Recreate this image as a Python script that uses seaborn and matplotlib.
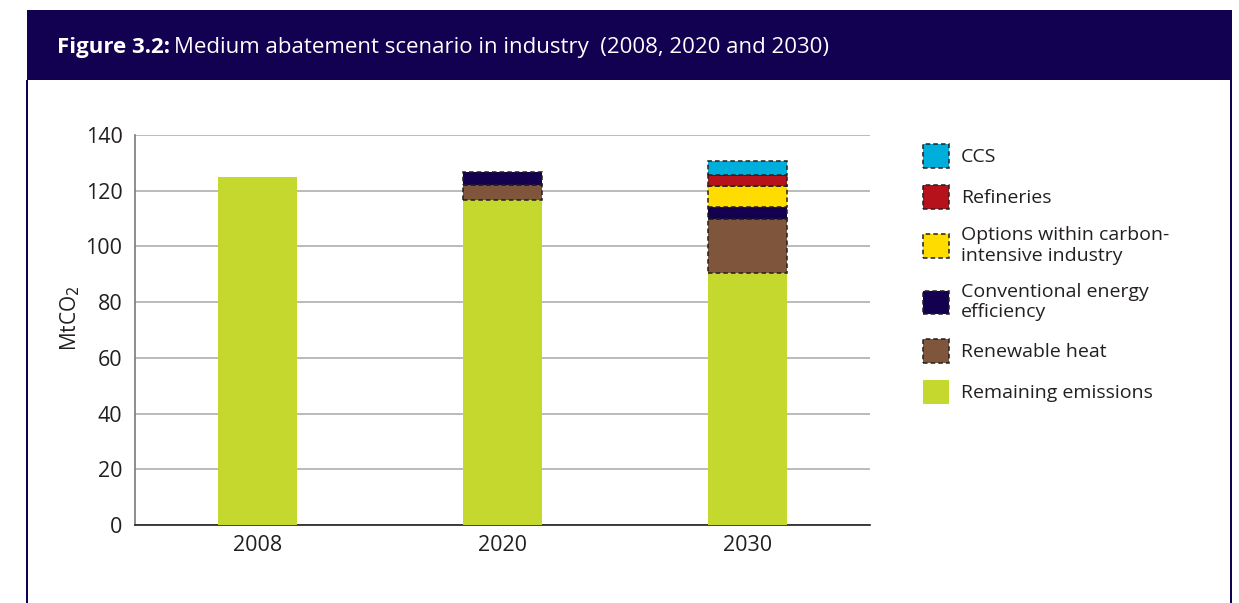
import matplotlib
matplotlib.use("Agg")
import matplotlib.pyplot as plt
import matplotlib.patches as mpatches
import seaborn as sns
import pandas as pd

years = ["2008", "2020", "2030"]
series = ["Remaining emissions", "Renewable heat", "Conventional energy efficiency",
          "Options within carbon-intensive industry", "Refineries", "CCS"]
remaining = [125.0, 116.7, 90.3]
renewable_heat = [0.0, 5.4, 19.4]
conventional_eff = [0.0, 4.7, 4.3]
carbon_intensive = [0.0, 0.0, 7.7]
refineries = [0.0, 0.0, 3.9]
ccs = [0.0, 0.0, 5.2]
legend_labels = ["CCS", "Refineries", "Options within carbon-\nintensive industry",
                 "Conventional energy\nefficiency", "Renewable heat", "Remaining emissions"]

colors = {
    "Remaining emissions": "#c4d82e",
    "Renewable heat": "#7f553b",
    "Conventional energy efficiency": "#13004f",
    "Options within carbon-intensive industry": "#ffdc00",
    "Refineries": "#b5121b",
    "CCS": "#00aedb",
}
values = [remaining, renewable_heat, conventional_eff, carbon_intensive, refineries, ccs]

sns.set_theme(style="white")
plt.rcParams["font.family"] = ["Open Sans", "DejaVu Sans"]
text_col = "#231f20"

fig = plt.figure(figsize=(12.39, 6.03), dpi=100)
ax = fig.add_axes([135/1239, 1-525/603, (870-135)/1239, (525-135)/603])

dash = (0, (3, 2))
cum = [0.0, 0.0, 0.0]
for name, vals in zip(series, values):
    rows = [(y, v, c) for y, v, c in zip(years, vals, cum) if v > 0]
    df = pd.DataFrame(rows, columns=["year", "value", "bottom"])
    kws = dict(edgecolor="none", linewidth=0)
    if name != "Remaining emissions":
        kws = dict(edgecolor="#231f20", linewidth=1.1, linestyle=dash)
    sns.barplot(data=df, x="year", y="value", order=years, color=colors[name],
                width=0.32, bottom=df["bottom"].tolist(), saturation=1,
                errorbar=None, ax=ax, zorder=3, **kws)
    cum = [c + v for c, v in zip(cum, vals)]

ax.set_xlim(-0.5, 2.5)
ax.set_ylim(0, 140)
ax.set_yticks(range(0, 141, 20))
ax.yaxis.grid(True, color="#a8a8a8", linewidth=1.1, zorder=0)
ax.set_axisbelow(True)
for s in ["top", "right"]:
    ax.spines[s].set_visible(False)
ax.spines["left"].set_color("#7a7a7a")
ax.spines["left"].set_linewidth(1.2)
ax.spines["bottom"].set_color("#231f20")
ax.spines["bottom"].set_linewidth(1.2)
ax.tick_params(axis="both", length=0, labelsize=15.5, colors=text_col)
ax.tick_params(axis="y", pad=9)
ax.tick_params(axis="x", pad=7)
ax.set_xlabel("")
ax.set_ylabel("MtCO$_2$", fontsize=15, color=text_col)
ax.yaxis.set_label_coords(-0.072, 0.53)

handles = []
for name in reversed(series):
    if name == "Remaining emissions":
        handles.append(mpatches.Patch(facecolor=colors[name], edgecolor="none"))
    else:
        handles.append(mpatches.Patch(facecolor=colors[name], edgecolor="#231f20",
                                      linewidth=1.1, linestyle=dash))
leg = fig.legend(handles, legend_labels, loc="upper left",
                 bbox_to_anchor=(915/1239, 1-136/603), frameon=False,
                 fontsize=14, handlelength=1.35, handleheight=1.5,
                 handletextpad=0.6, labelspacing=0.9, borderaxespad=0)
for t in leg.get_texts():
    t.set_color(text_col)
    t.set_linespacing(1.2)

navy = "#120050"
fig.patches.append(mpatches.Rectangle((27/1239, 1-80/603), (1232-27)/1239, 70/603,
                                      transform=fig.transFigure, facecolor=navy,
                                      edgecolor="none", zorder=0))
fig.patches.append(mpatches.Rectangle((26/1239, 0), 2/1239, 1-80/603,
                                      transform=fig.transFigure, facecolor=navy,
                                      edgecolor="none", zorder=0))
fig.patches.append(mpatches.Rectangle((1230/1239, 0), 2/1239, 1-80/603,
                                      transform=fig.transFigure, facecolor=navy,
                                      edgecolor="none", zorder=0))

t1 = fig.text(57/1239, 1-47/603, "Figure 3.2:", color="white", fontsize=16,
              fontweight="bold", va="center", ha="left", family=["Open Sans", "DejaVu Sans"])
fig.canvas.draw()
bb = t1.get_window_extent()
fig.text((bb.x1 + 4)/1239, 1-47/603, "Medium abatement scenario in industry  (2008, 2020 and 2030)",
         color="white", fontsize=16, va="center", ha="left",
         family=["Open Sans", "DejaVu Sans"])

fig.savefig("out.png", dpi=100, facecolor="white")
